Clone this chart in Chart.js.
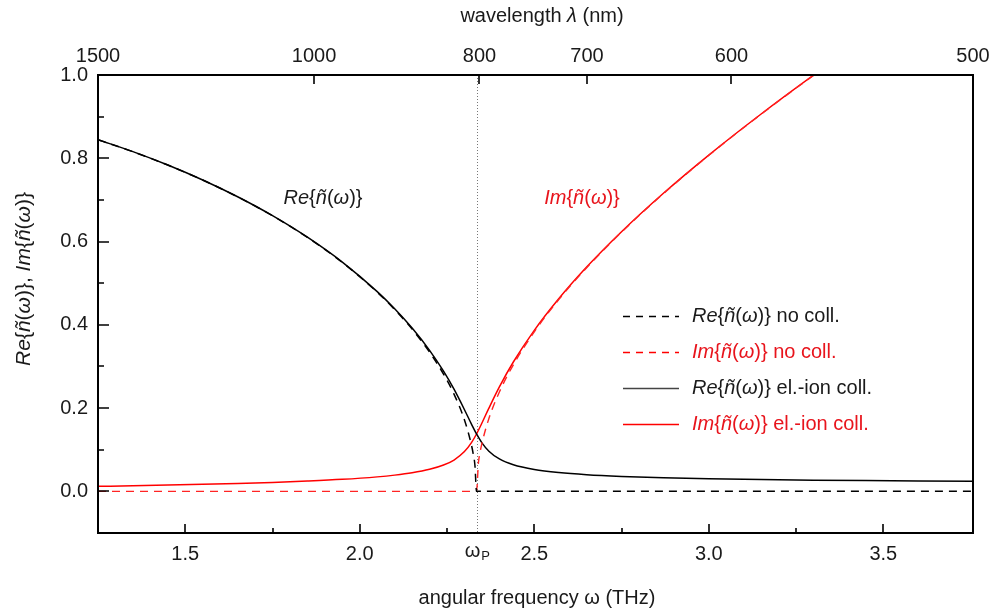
<!DOCTYPE html>
<html>
<head>
<meta charset="utf-8">
<script src="https://cdn.jsdelivr.net/npm/chart.js@4.4.1/dist/chart.umd.min.js"></script>
<style>
  html, body { margin: 0; padding: 0; background: #fff; }
  #wrap { width: 989px; height: 614px; position: relative; }
</style>
</head>
<body>
<div id="wrap"><canvas id="myChart" width="989" height="614"></canvas></div>
<script>
// angular frequency (bottom axis)
const omega = [1.25, 1.35, 1.45, 1.55, 1.65, 1.75, 1.85, 1.95, 2.05, 2.10, 2.15, 2.20, 2.24, 2.27, 2.30, 2.32,
  2.3345, 2.35, 2.37, 2.40, 2.44, 2.50, 2.57, 2.65, 2.75, 2.87, 3.00, 3.15, 3.30, 3.45, 3.60, 3.757];
// with electron-ion collisions (solid)
const reColl = [0.8447, 0.8160, 0.7838, 0.7479, 0.7076, 0.6622, 0.6104, 0.5506, 0.4797, 0.4386, 0.3922, 0.3387, 0.2886, 0.2453, 0.1961, 0.1614,
  0.1378, 0.1166, 0.0965, 0.0778, 0.0639, 0.0526, 0.0452, 0.0400, 0.0359, 0.0326, 0.0302, 0.0283, 0.0269, 0.0258, 0.0250, 0.0243];
const imColl = [0.0120, 0.0135, 0.0151, 0.0169, 0.0190, 0.0215, 0.0247, 0.0288, 0.0348, 0.0390, 0.0446, 0.0529, 0.0632, 0.0753, 0.0955, 0.1170,
  0.1378, 0.1641, 0.1999, 0.2509, 0.3107, 0.3868, 0.4626, 0.5387, 0.6236, 0.7159, 0.8077, 0.9064, 0.9995, 1.0885, 1.1742, 1.2612];

// without collisions (dashed)
const omegaNoColl = [1.25, 1.35, 1.45, 1.55, 1.65, 1.75, 1.85, 1.95, 2.05, 2.10, 2.15, 2.20, 2.24, 2.27, 2.30, 2.32, 2.325, 2.33,
  2.3345, 2.34, 2.345, 2.35, 2.37, 2.40, 2.44, 2.50, 2.57, 2.65, 2.75, 2.87, 3.00, 3.15, 3.30, 3.45, 3.60, 3.757];
const reNoColl = [0.8446, 0.8158, 0.7837, 0.7478, 0.7074, 0.6619, 0.6099, 0.5498, 0.4784, 0.4368, 0.3896, 0.3345, 0.2816, 0.2335, 0.1713, 0.1113, 0.0901, 0.0621,
  0, 0, 0, 0, 0, 0, 0, 0, 0, 0, 0, 0, 0, 0, 0, 0, 0, 0];
const imNoColl = [0, 0, 0, 0, 0, 0, 0, 0, 0, 0, 0, 0, 0, 0, 0, 0, 0, 0,
  0, 0.0687, 0.0950, 0.1154, 0.1751, 0.2386, 0.3040, 0.3832, 0.4604, 0.5372, 0.6226, 0.7151, 0.8071, 0.9059, 0.9991, 1.0881, 1.1739, 1.2610];

// axes
const omegaP = 2.3345;
const xTicks = [1.5, 2.0, 2.5, 3.0, 3.5];
const xMinorTicks = [1.75, 2.25, 2.75, 3.25];
const yTicks = [0.0, 0.2, 0.4, 0.6, 0.8, 1.0];
const yMinorTicks = [-0.1, 0.1, 0.3, 0.5, 0.7, 0.9];
const wavelengthLabels = ['1500', '1000', '800', '700', '600', '500'];
const wavelengthAt = [1.25, 1.869, 2.343, 2.651, 3.065, 3.757];

const FONT = '"Liberation Sans", Arial, sans-serif';
const RED = '#ff0000';
const RED_TEXT = '#e8141c';
const TXT = '#1a1a1a';

const nTilde = (pre) => [[pre, true], ['{', false], ['\u00f1', true], ['(', false], ['\u03c9', true], [')}', false]];

const legendItems = [
  { segs: nTilde('Re').concat([[' no coll.', false]]), color: '#000', text: TXT, dash: [7, 6] },
  { segs: nTilde('Im').concat([[' no coll.', false]]), color: RED, text: RED_TEXT, dash: [7, 6] },
  { segs: nTilde('Re').concat([[' el.-ion coll.', false]]), color: '#444', text: TXT, dash: [] },
  { segs: nTilde('Im').concat([[' el.-ion coll.', false]]), color: RED, text: RED_TEXT, dash: [] }
];

function setFont(ctx, italic, size) {
  ctx.font = (italic ? 'italic ' : '') + size + 'px ' + FONT;
}

function richWidth(ctx, segs, size) {
  let w = 0;
  segs.forEach(s => { setFont(ctx, s[1], size); w += ctx.measureText(s[0]).width; });
  return w;
}

function drawRich(ctx, segs, x, y, size, color, align) {
  const w = richWidth(ctx, segs, size);
  let cx = align === 'center' ? x - w / 2 : x;
  ctx.fillStyle = color;
  ctx.textAlign = 'left';
  ctx.textBaseline = 'middle';
  segs.forEach(s => {
    setFont(ctx, s[1], size);
    ctx.fillText(s[0], cx, y);
    cx += ctx.measureText(s[0]).width;
  });
}

function toPoints(xs, ys) {
  return xs.map((x, i) => ({ x: x, y: ys[i] }));
}

function noEdgePadding(s) {
  s.paddingLeft = 0;
  s.paddingRight = 0;
}

const decor = {
  id: 'decor',
  beforeDatasetsDraw(chart) {
    const ctx = chart.ctx;
    const a = chart.chartArea;
    const xp = chart.scales.x.getPixelForValue(omegaP);
    ctx.save();
    ctx.strokeStyle = '#777';
    ctx.lineWidth = 1;
    ctx.setLineDash([1, 2]);
    ctx.beginPath();
    ctx.moveTo(Math.round(xp) + 0.5, a.top);
    ctx.lineTo(Math.round(xp) + 0.5, a.bottom);
    ctx.stroke();
    ctx.restore();
  },
  afterDraw(chart) {
    const ctx = chart.ctx;
    const a = chart.chartArea;
    const sx = chart.scales.x, sy = chart.scales.y;
    ctx.save();
    ctx.strokeStyle = '#000';
    ctx.lineWidth = 2;
    ctx.strokeRect(a.left, a.top, a.right - a.left, a.bottom - a.top);

    // inward tick marks
    ctx.lineWidth = 1.6;
    ctx.beginPath();
    yTicks.forEach(v => { const p = Math.round(sy.getPixelForValue(v)); ctx.moveTo(a.left, p); ctx.lineTo(a.left + 11, p); });
    yMinorTicks.forEach(v => { const p = Math.round(sy.getPixelForValue(v)); ctx.moveTo(a.left, p); ctx.lineTo(a.left + 6, p); });
    xTicks.forEach(v => { const p = Math.round(sx.getPixelForValue(v)); ctx.moveTo(p, a.bottom); ctx.lineTo(p, a.bottom - 9); });
    xMinorTicks.forEach(v => { const p = Math.round(sx.getPixelForValue(v)); ctx.moveTo(p, a.bottom); ctx.lineTo(p, a.bottom - 5); });
    wavelengthAt.slice(1, -1).forEach(v => { const p = Math.round(sx.getPixelForValue(v)); ctx.moveTo(p, a.top); ctx.lineTo(p, a.top + 9); });
    ctx.stroke();

    // omega_P label
    const xp = sx.getPixelForValue(omegaP);
    setFont(ctx, false, 20);
    ctx.fillStyle = TXT;
    ctx.textAlign = 'center';
    ctx.textBaseline = 'middle';
    ctx.fillText('\u03c9', xp - 4, 551);
    setFont(ctx, false, 13);
    ctx.fillText('P', xp + 9, 556);

    // axis titles
    drawRich(ctx, [['angular frequency \u03c9 (THz)', false]], 537, 598, 20, TXT, 'center');
    drawRich(ctx, [['wavelength ', false], ['\u03bb', true], [' (nm)', false]], 542, 16, 20, TXT, 'center');
    ctx.save();
    ctx.translate(24, 279);
    ctx.rotate(-Math.PI / 2);
    drawRich(ctx, nTilde('Re').concat([[', ', false]], nTilde('Im')), 0, 0, 21, TXT, 'center');
    ctx.restore();

    // curve annotations
    drawRich(ctx, nTilde('Re'), 323, 198, 20, TXT, 'center');
    drawRich(ctx, nTilde('Im'), 582, 198, 20, RED_TEXT, 'center');

    // legend
    const rows = [316, 352, 388, 424];
    legendItems.forEach((it, i) => {
      ctx.save();
      ctx.strokeStyle = it.color;
      ctx.lineWidth = 1.4;
      ctx.setLineDash(it.dash);
      ctx.beginPath();
      ctx.moveTo(623, rows[i] + 0.5);
      ctx.lineTo(679, rows[i] + 0.5);
      ctx.stroke();
      ctx.restore();
      drawRich(ctx, it.segs, 692, rows[i], 20, it.text, 'left');
    });
    ctx.restore();
  }
};

const ctx = document.getElementById('myChart').getContext('2d');
const myChart = new Chart(ctx, {
  type: 'line',
  data: {
    datasets: [
      { data: toPoints(omegaNoColl, reNoColl), borderColor: '#000', borderWidth: 1.5, borderDash: [8, 6] },
      { data: toPoints(omegaNoColl, imNoColl), borderColor: '#ff2424', borderWidth: 1.4, borderDash: [8, 6] },
      { data: toPoints(omega, reColl), borderColor: '#000', borderWidth: 1.5 },
      { data: toPoints(omega, imColl), borderColor: RED, borderWidth: 1.5 }
    ]
  },
  options: {
    responsive: false,
    animation: false,
    devicePixelRatio: 1,
    layout: { padding: { right: 16, left: 0, top: 0, bottom: 0 } },
    elements: {
      point: { radius: 0 },
      line: { cubicInterpolationMode: 'monotone', fill: false }
    },
    plugins: { legend: { display: false }, tooltip: { enabled: false } },
    scales: {
      x: {
        type: 'linear', position: 'bottom', min: 1.25, max: 3.757,
        afterBuildTicks: s => { s.ticks = xTicks.map(v => ({ value: v })); },
        afterFit: s => { s.height = 81; noEdgePadding(s); },
        grid: { display: false, drawTicks: false },
        border: { display: false },
        ticks: { autoSkip: false, maxRotation: 0, padding: 9, color: TXT, font: { family: FONT, size: 20 },
          callback: v => v.toFixed(1) }
      },
      x2: {
        type: 'linear', position: 'top', min: 1.25, max: 3.757,
        afterBuildTicks: s => { s.ticks = wavelengthAt.map(v => ({ value: v })); },
        afterFit: s => { s.height = 75; noEdgePadding(s); },
        grid: { display: false, drawTicks: false },
        border: { display: false },
        ticks: { autoSkip: false, maxRotation: 0, padding: 7, color: TXT, font: { family: FONT, size: 20 },
          callback: (v, i) => wavelengthLabels[i] }
      },
      y: {
        type: 'linear', min: -0.1, max: 1.0,
        afterBuildTicks: s => { s.ticks = yTicks.map(v => ({ value: v })); },
        afterFit: s => { s.width = 98; s.paddingTop = 0; s.paddingBottom = 0; },
        grid: { display: false, drawTicks: false },
        border: { display: false },
        ticks: { autoSkip: false, padding: 10, color: TXT, font: { family: FONT, size: 20 },
          callback: v => v.toFixed(1) }
      }
    }
  },
  plugins: [decor]
});
</script>
</body>
</html>
